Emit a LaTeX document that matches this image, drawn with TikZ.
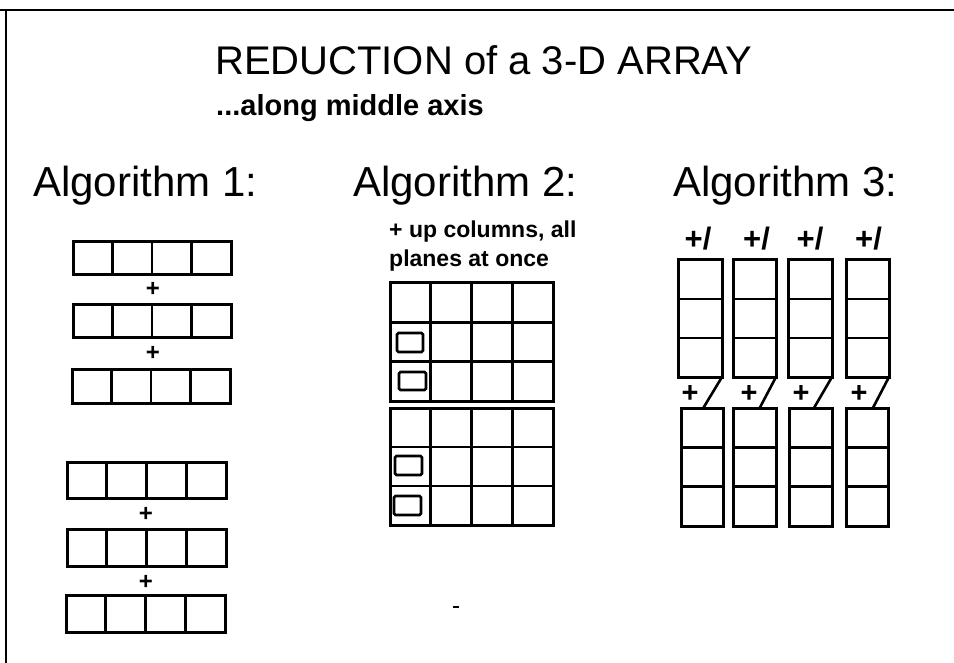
\documentclass[tikz,border=0pt]{standalone}
\usepackage{fontspec}
\setmainfont{Liberation Sans}
\usetikzlibrary{calc,fit}
\begin{document}
\begin{tikzpicture}[x=1pt,y=-1pt,
  frameline/.style={line width=2pt},
  cellbox/.style={draw, rectangle, line width=3pt, inner sep=0pt, outer sep=0pt},
  divider/.style={line width=2.6pt},
  smallbox/.style={draw, rectangle, line width=2.6pt, rounded corners=1.5pt, inner sep=0pt, outer sep=0pt},
  plussign/.style={font=\bfseries\fontsize{24}{28}\selectfont, inner sep=0pt},
  bigplus/.style={font=\bfseries\fontsize{29}{32}\selectfont, inner sep=0pt},
  redlabel/.style={font=\bfseries\fontsize{31}{34}\selectfont, inner sep=0pt},
  titletext/.style={font=\fontsize{40}{46}\selectfont, anchor=base west, inner sep=0pt},
  subtext/.style={font=\bfseries\fontsize{29}{34}\selectfont, anchor=base west, inner sep=0pt},
  algtext/.style={font=\fontsize{42}{48}\selectfont, anchor=base west, inner sep=0pt},
  notetext/.style={font=\bfseries\fontsize{23}{27}\selectfont, anchor=base west, inner sep=0pt}
]
\useasboundingbox (0,0) rectangle (954,663);
% frame
\coordinate (fa) at (0,10);
\coordinate (fb) at (954,10);
\coordinate (fc) at (6,10);
\coordinate (fd) at (6,663);
\draw[frameline] (fa) -- (fb);
\draw[frameline] (fc) -- (fd);

% titles
\node[titletext] (title) at (215,75) {REDUCTION of a 3-D ARRAY};
\node[subtext] (sub) at (216,116) {...along middle axis};
\node[algtext] (alg1) at (33,197) {Algorithm 1:};
\node[algtext] (alg2) at (353,197) {Algorithm 2:};
\node[algtext] (alg3) at (673,197) {Algorithm 3:};

% ---------- Algorithm 1 ----------
\node[cellbox, fit={(73,242) (231,275)}] (r1) {};
\node[cellbox, fit={(73,305) (231,338)}] (r2) {};
\node[cellbox, fit={(72,369) (230,403)}] (r3) {};
\node[cellbox, fit={(67,462) (226,498)}] (r4) {};
\node[cellbox, fit={(67,529) (226,566)}] (r5) {};
\node[cellbox, fit={(66,595) (225,632)}] (r6) {};
\foreach \r in {r1,r2,r3,r4,r5,r6}{
  \foreach \f in {0.25,0.5,0.75}{
    \draw[divider] ($(\r.north west)!\f!(\r.north east)$) -- ($(\r.south west)!\f!(\r.south east)$);
  }
}
\node[plussign] (p1) at (153,289) {+};
\node[plussign] (p2) at (153,353) {+};
\node[plussign] (p3) at (146,514) {+};
\node[plussign] (p4) at (146,582) {+};

% ---------- Algorithm 2 ----------
\node[notetext] (n1) at (389,238) {+ up columns, all};
\node[notetext] (n2) at (389,267) {planes at once};
\node[cellbox, fit={(390,283) (553,401)}] (g1) {};
\node[cellbox, fit={(390,408) (553,525)}] (g2) {};
\foreach \g in {g1,g2}{
  \foreach \f in {0.25,0.5,0.75}{
    \draw[divider] ($(\g.north west)!\f!(\g.north east)$) -- ($(\g.south west)!\f!(\g.south east)$);
  }
  \foreach \f in {0.3333,0.6667}{
    \draw[divider] ($(\g.north west)!\f!(\g.south west)$) -- ($(\g.north east)!\f!(\g.south east)$);
  }
}
\node[smallbox, fit={(397,333) (423,352)}] (s1) {};
\node[smallbox, fit={(399,372) (426,390)}] (s2) {};
\node[smallbox, fit={(395,456) (422,475)}] (s3) {};
\node[smallbox, fit={(394,496) (421,515)}] (s4) {};

% ---------- Algorithm 3 ----------
\node[cellbox, fit={(678,260) (722,377)}] (u1) {};
\node[cellbox, fit={(733,260) (776,377)}] (u2) {};
\node[cellbox, fit={(788,260) (832,377)}] (u3) {};
\node[cellbox, fit={(846,260) (889,377)}] (u4) {};
\node[cellbox, fit={(681,408) (723,526)}] (l1) {};
\node[cellbox, fit={(733,408) (776,526)}] (l2) {};
\node[cellbox, fit={(789,408) (832,526)}] (l3) {};
\node[cellbox, fit={(846,408) (888,526)}] (l4) {};
\foreach \c in {u1,u2,u3,u4,l1,l2,l3,l4}{
  \foreach \f in {0.3333,0.6667}{
    \draw[divider] ($(\c.north west)!\f!(\c.south west)$) -- ($(\c.north east)!\f!(\c.south east)$);
  }
}
\foreach \i/\dx in {1/-2,2/2,3/0,4/1}{
  \node[redlabel] (t\i) at ($(u\i.north)+(\dx,-21)$) {+/};
}
\node[bigplus] (m1) at (690,394) {+};
\node[bigplus] (m2) at (749,394) {+};
\node[bigplus] (m3) at (801,394) {+};
\node[bigplus] (m4) at (859,394) {+};
\draw[divider] (u1.south east) -- ($(l1.north west)!0.53!(l1.north east)$);
\draw[divider] (u2.south east) -- ($(l2.north west)!0.62!(l2.north east)$);
\draw[divider] (u3.south east) -- ($(l3.north west)!0.58!(l3.north east)$);
\draw[divider] (u4.south east) -- ($(l4.north west)!0.64!(l4.north east)$);

% stray mark
\coordinate (da) at (453,607);
\coordinate (db) at (459,607);
\draw[line width=1.8pt] (da) -- (db);
\end{tikzpicture}
\end{document}
